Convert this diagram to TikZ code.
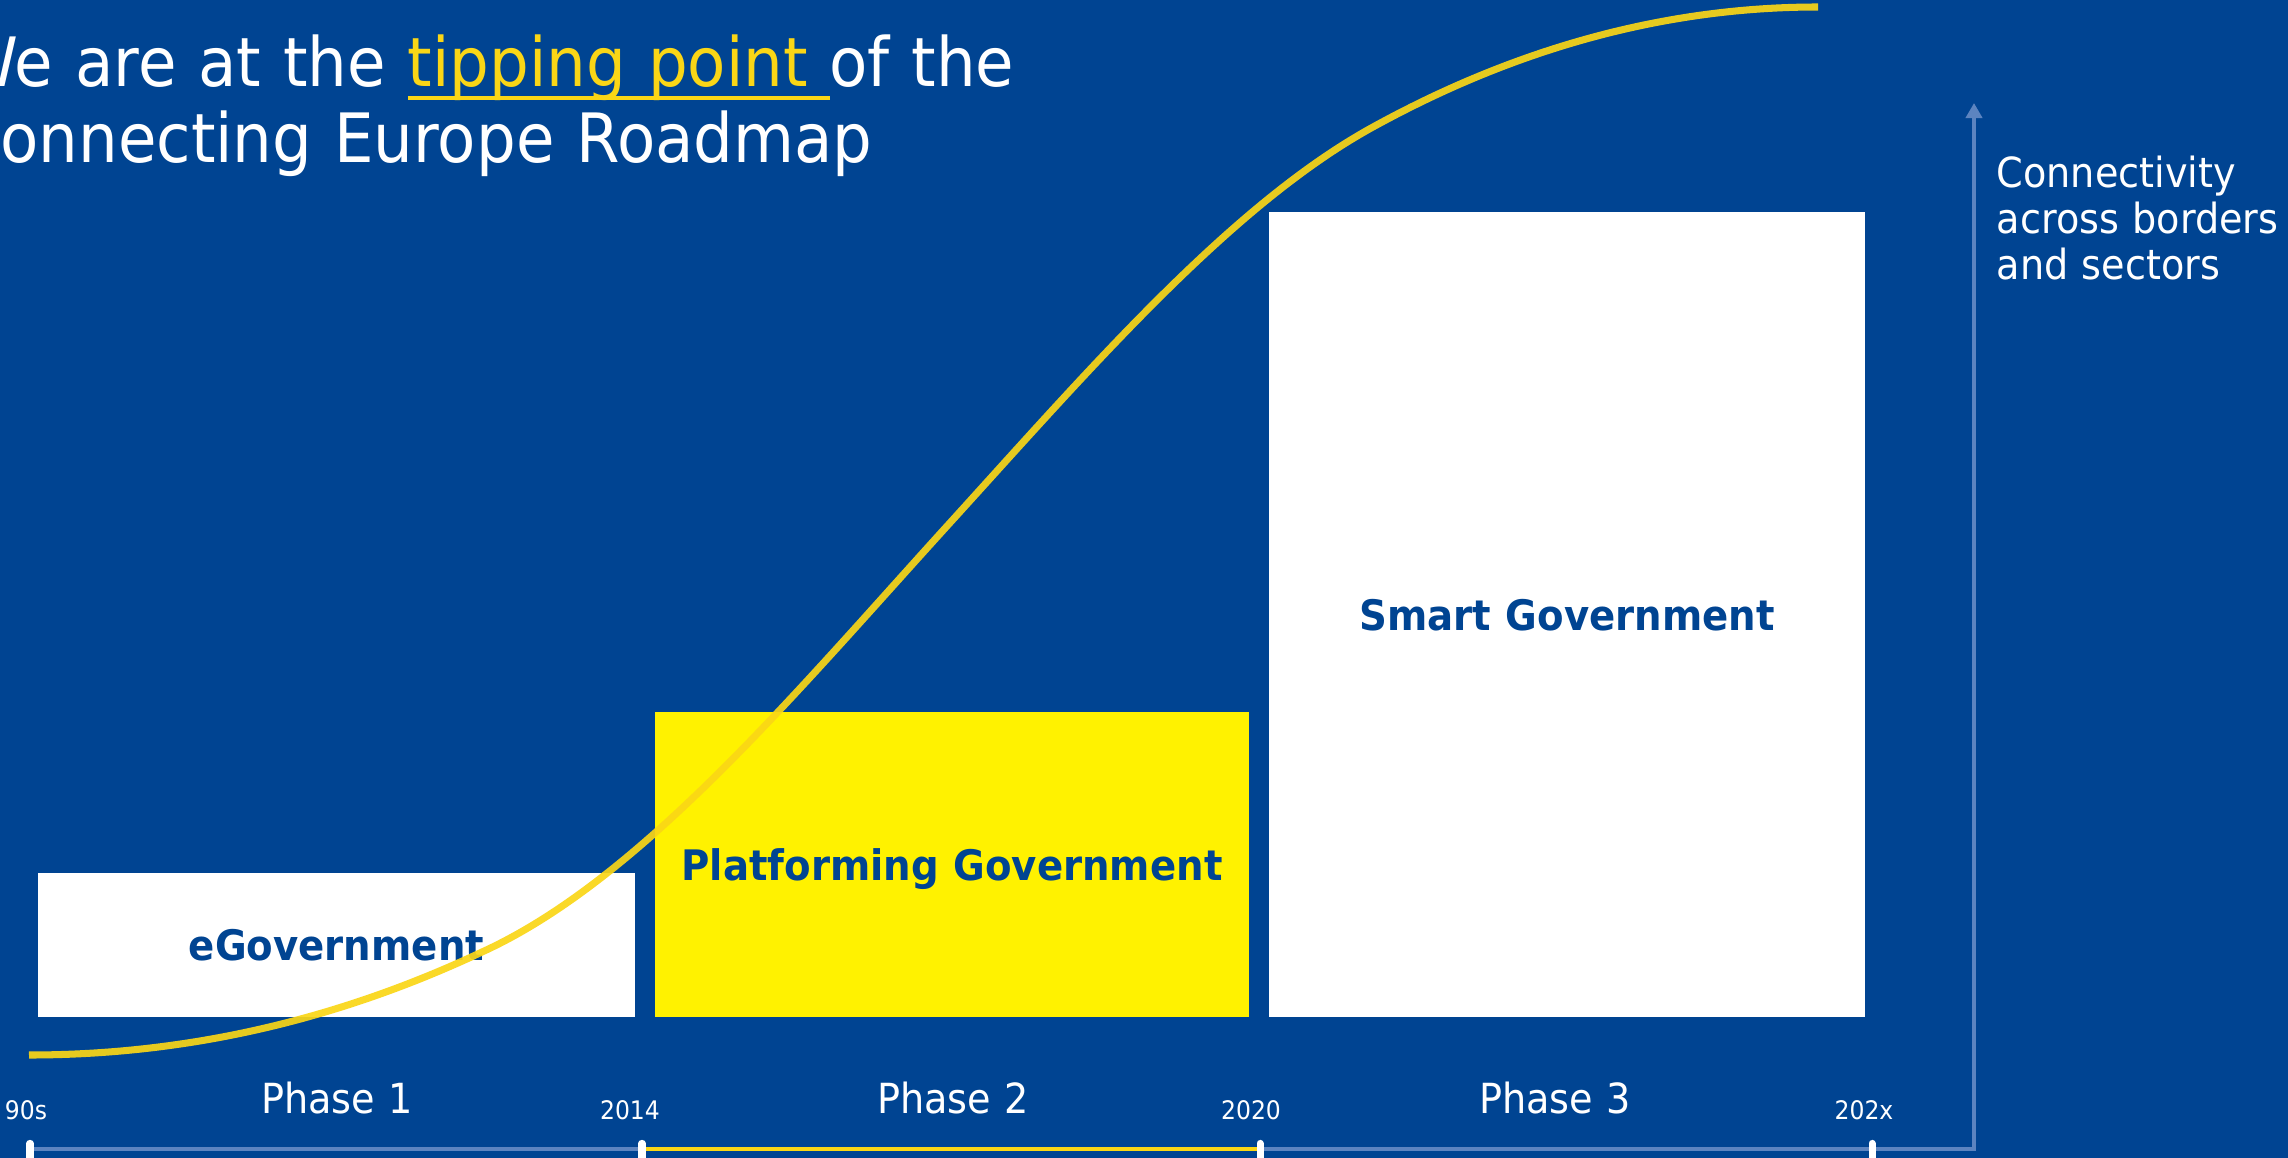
\documentclass[tikz,border=0pt]{standalone}
\usepackage{fontspec}
\setmainfont{DejaVu Sans}[FakeStretch=0.92, WordSpace=1.1]
\usepackage{tikz}
\usetikzlibrary{positioning}
\usetikzlibrary{arrows.meta}

\definecolor{eublue}{RGB}{0,68,146}
\definecolor{euyellow}{RGB}{255,242,0}
\definecolor{curveyellow}{RGB}{250,214,22}
\definecolor{axisblue}{RGB}{92,132,192}

\newsavebox{\tipbox}
\newcommand{\tipline}[1]{\sbox{\tipbox}{#1}\rlap{\rule[-3.6pt]{\wd\tipbox}{1pt}}\usebox{\tipbox}}

\begin{document}
\begin{tikzpicture}[x=0.01cm, y=-0.01cm,
    titletext/.style={inner sep=0pt, anchor=base west, text=white, font=\fontsize{19.35}{21.9}\selectfont},
    govbox/.style={rectangle, inner sep=0pt, text depth=0pt, text=eublue, font=\fontsize{11.95}{14}\selectfont\bfseries},
    phaselabel/.style={inner sep=0pt, anchor=base, text=white, font=\fontsize{11.8}{13.1}\selectfont},
    yearlabel/.style={inner sep=0pt, anchor=base, text=white, font=\fontsize{7.26}{8}\selectfont},
    axisline/.style={axisblue, line width=1.1pt},
    tickmark/.style={white, line width=2pt, line cap=round}]

                \useasboundingbox (0,0) rectangle (2288,1158);
                \fill[eublue] (0,0) rectangle (2288,1158);

                % Title
                \node[titletext] (title1) at (-44,87) {We are at the {\color{curveyellow}\tipline{tipping point }}of the};
                \node[titletext] (title2) at (-44,163) {Connecting Europe Roadmap};

                % Phase boxes
                \node[govbox, fill=white, minimum width=5.97cm, minimum height=1.44cm] (egov) at (336.5,945) {eGovernment};
                \node[govbox, fill=euyellow, minimum width=5.94cm, minimum height=3.05cm] (platform) at (952,864.5) {Platforming Government};
                \node[govbox, fill=white, minimum width=5.96cm, minimum height=8.05cm] (smart) at (1567,614.5) {Smart Government};

                % Time axis
                \coordinate (t90) at (30,1149);
                \coordinate (t14) at (642,1149);
                \coordinate (t20) at (1260,1149);
                \coordinate (t2x) at (1872,1149);
                \coordinate (corner) at (1974,1149);
                \coordinate (axtop) at (1974,103);

                \draw[axisline] (t90) -- (t14);
                \draw[curveyellow, line width=1.1pt] (t14) -- (t20);
                \draw[axisline, -{Triangle[width=4.6pt,length=4.3pt]}] (t20) -- (corner) -- (axtop);
                \foreach \t in {t90,t14,t20,t2x}
                    \draw[tickmark] ([yshift=1.6pt]\t) -- ([yshift=-5pt]\t);

                % Labels
                \node[yearlabel] (y90) at (26,1119) {90s};
                \node[yearlabel] (y14) at (630,1119) {2014};
                \node[yearlabel] (y20) at (1251,1119) {2020};
                \node[yearlabel] (y2x) at (1864,1119) {202x};
                \node[phaselabel] (phase1) at (337,1113) {Phase 1};
                \node[phaselabel] (phase2) at (953,1113) {Phase 2};
                \node[phaselabel] (phase3) at (1555,1113) {Phase 3};
                \node[phaselabel, anchor=north west, align=left] (connect) at (1996,155) {Connectivity\\across borders\\and sectors};

                % S-curve
                \coordinate (c0) at (29,1055);
                \coordinate (c1) at (482,952);
                \coordinate (c2) at (948,525);
                \coordinate (c3) at (1373,127);
                \coordinate (c4) at (1818,7);
                \draw[curveyellow, line width=2pt, opacity=0.92]
                    (c0) .. controls (180,1055) and (331,1023) .. (c1)
                         .. controls (640,880) and (793,695.5) .. (c2)
                         .. controls (1090,368.8) and (1231,205) .. (c3)
                         .. controls (1521,45.6) and (1670,7) .. (c4);

\end{tikzpicture}
\end{document}
